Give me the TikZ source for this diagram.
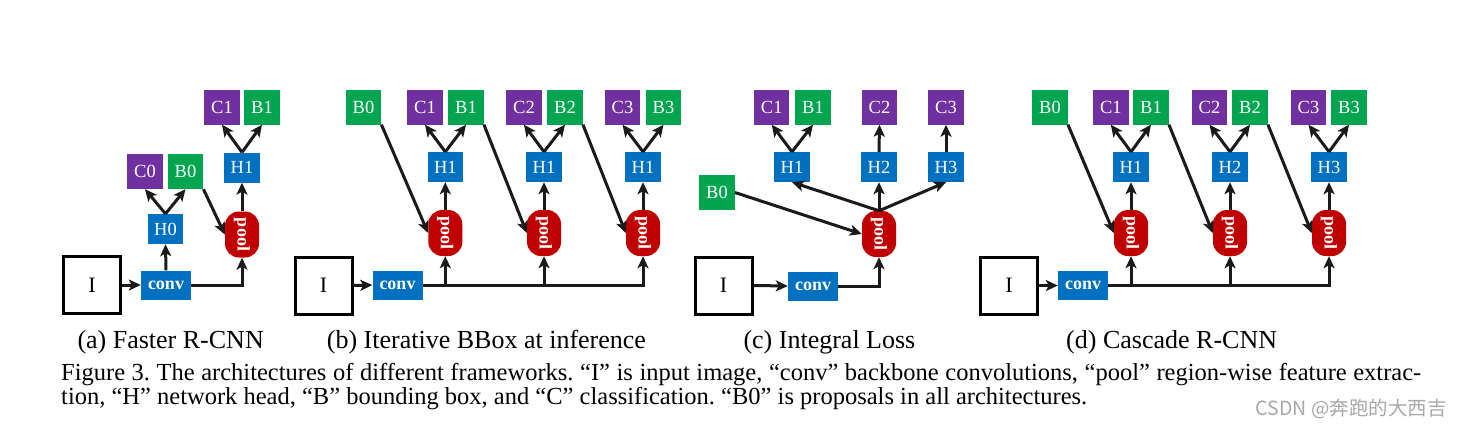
\documentclass[tikz,border=0pt]{standalone}
\usepackage{fontspec}
\setmainfont{Liberation Serif}
\newfontfamily\cjkfont{Noto Sans CJK SC}
\usetikzlibrary{arrows.meta}
\definecolor{cpurple}{HTML}{7030A0}
\definecolor{bgreen}{HTML}{00A550}
\definecolor{hblue}{HTML}{0070C0}
\definecolor{pred}{HTML}{C00000}
\definecolor{arrowc}{HTML}{1A1A1A}
\definecolor{wmgray}{HTML}{A8A8A8}
\frenchspacing
\begin{document}
\begin{tikzpicture}[x=1pt,y=-1pt,
  boxlbl/.style={inner sep=0pt, text=white, font=\fontsize{18.5}{18.5}\selectfont},
  cnode/.style={boxlbl, fill=cpurple, minimum width=35.5pt, minimum height=35pt},
  bnode/.style={boxlbl, fill=bgreen, minimum width=35.5pt, minimum height=35pt},
  hnode/.style={boxlbl, fill=hblue, minimum width=35.5pt, minimum height=30pt},
  convnode/.style={boxlbl, fill=hblue, minimum width=50pt, minimum height=29pt, font=\fontsize{18}{18}\selectfont\bfseries},
  poolnode/.style={boxlbl, fill=pred, minimum width=34pt, minimum height=46pt, rounded corners=14pt, font=\fontsize{18}{18}\selectfont\bfseries},
  inode/.style={draw=black, line width=3pt, minimum width=57pt, minimum height=57pt, inner sep=0pt, font=\fontsize{22}{22}\selectfont},
  arr/.style={draw=arrowc, line width=3pt, -{Stealth[length=12pt,width=11pt,inset=3pt]}},
  sublbl/.style={anchor=base west, inner sep=0pt, font=\fontsize{26}{26}\selectfont},
  capline/.style={anchor=base west, inner sep=0pt, font=\fontsize{24.5}{24.5}\selectfont},
  wmark/.style={anchor=base east, inner sep=0pt, text=wmgray, font=\cjkfont\fontsize{19.5}{19.5}\selectfont}
]
\useasboundingbox[fill=white] (0,0) rectangle (1461,426);

% ---------- (a) Faster R-CNN ----------
\node[inode] (Ia) at (92,285) {I};
\node[convnode] (conva) at (166,285) {conv};
\node[hnode] (H0a) at (165.5,229) {H0};
\node[cnode] (C0a) at (145,171.5) {C0};
\node[bnode] (B0a) at (185.5,171.5) {B0};
\node[poolnode] (poola) at (242,234.5) {\rotatebox{-90}{pool}};
\node[hnode] (H1a) at (242,167.5) {H1};
\node[cnode] (C1a) at (222,107) {C1};
\node[bnode] (B1a) at (262,107) {B1};
\draw[arr] (Ia.east) -- (conva.west);
\draw[arr] (conva.north) -- (H0a.south);
\draw[arr] (H0a.north) -- (C0a.south);
\draw[arr] (H0a.north) -- (B0a.south);
\draw[arr] (conva.east) -| (poola.south);
\draw[arr] (B0a.south east) -- (poola.west);
\draw[arr] (poola.north) -- (H1a.south);
\draw[arr] (H1a.north) -- (C1a.south);
\draw[arr] (H1a.north) -- (B1a.south);

% ---------- (b) Iterative BBox ----------
\node[inode] (Ib) at (323.5,285.5) {I};
\node[convnode] (convb) at (397.5,285) {conv};
\node[bnode] (B0b) at (363.5,107) {B0};
\node[poolnode] (poolb1) at (445.3,233) {\rotatebox{-90}{pool}};
\node[poolnode] (poolb2) at (544,233) {\rotatebox{-90}{pool}};
\node[poolnode] (poolb3) at (643,233) {\rotatebox{-90}{pool}};
\node[hnode] (Hb1) at (445.3,167) {H1};
\node[hnode] (Hb2) at (544,167) {H1};
\node[hnode] (Hb3) at (643,167) {H1};
\node[cnode] (Cb1) at (425,107) {C1};
\node[bnode] (Bb1) at (466,107) {B1};
\node[cnode] (Cb2) at (524,107) {C2};
\node[bnode] (Bb2) at (565,107) {B2};
\node[cnode] (Cb3) at (622.5,107) {C3};
\node[bnode] (Bb3) at (663.5,107) {B3};
\draw[arr] (Ib.east) -- (convb.west);
\draw[arr] (convb.east) -| (poolb3.south);
\draw[arr] (poolb1.south |- convb.east) -- (poolb1.south);
\draw[arr] (poolb2.south |- convb.east) -- (poolb2.south);
\draw[arr] (B0b.south east) -- (poolb1.west);
\draw[arr] (Bb1.south east) -- (poolb2.west);
\draw[arr] (Bb2.south east) -- (poolb3.west);
\draw[arr] (poolb1.north) -- (Hb1.south);
\draw[arr] (poolb2.north) -- (Hb2.south);
\draw[arr] (poolb3.north) -- (Hb3.south);
\draw[arr] (Hb1.north) -- (Cb1.south);
\draw[arr] (Hb1.north) -- (Bb1.south);
\draw[arr] (Hb2.north) -- (Cb2.south);
\draw[arr] (Hb2.north) -- (Bb2.south);
\draw[arr] (Hb3.north) -- (Cb3.south);
\draw[arr] (Hb3.north) -- (Bb3.south);

% ---------- (c) Integral Loss ----------
\node[inode] (Ic) at (723.5,285.5) {I};
\node[convnode] (convc) at (813,286) {conv};
\node[poolnode] (poolc) at (879,234) {\rotatebox{-90}{pool}};
\node[bnode] (B0c) at (717,192.5) {B0};
\node[hnode] (Hc1) at (792,167) {H1};
\node[hnode] (Hc2) at (879,167) {H2};
\node[hnode] (Hc3) at (946,167) {H3};
\node[cnode] (Cc1) at (771.7,107) {C1};
\node[bnode] (Bc1) at (813,107) {B1};
\node[cnode] (Cc2) at (879.5,107) {C2};
\node[cnode] (Cc3) at (946,107) {C3};
\draw[arr] (Ic.east) -- (convc.west);
\draw[arr] (convc.east) -| (poolc.south);
\draw[arr] (B0c.east) -- (poolc.west);
\draw[arr] (poolc.north) -- (Hc1.south);
\draw[arr] (poolc.north) -- (Hc2.south);
\draw[arr] (poolc.north) -- (Hc3.south);
\draw[arr] (Hc1.north) -- (Cc1.south);
\draw[arr] (Hc1.north) -- (Bc1.south);
\draw[arr] (Hc2.north) -- (Cc2.south);
\draw[arr] (Hc3.north) -- (Cc3.south);

% ---------- (d) Cascade R-CNN ----------
\node[inode] (Id) at (1009,285.5) {I};
\node[convnode] (convd) at (1083,285.5) {conv};
\node[bnode] (B0d) at (1050,107) {B0};
\node[poolnode] (poold1) at (1131,233) {\rotatebox{-90}{pool}};
\node[poolnode] (poold2) at (1230,233) {\rotatebox{-90}{pool}};
\node[poolnode] (poold3) at (1329,233) {\rotatebox{-90}{pool}};
\node[hnode] (Hd1) at (1131,167) {H1};
\node[hnode] (Hd2) at (1230,167) {H2};
\node[hnode] (Hd3) at (1329,167) {H3};
\node[cnode] (Cd1) at (1110.8,107) {C1};
\node[bnode] (Bd1) at (1151,107) {B1};
\node[cnode] (Cd2) at (1209.5,107) {C2};
\node[bnode] (Bd2) at (1250,107) {B2};
\node[cnode] (Cd3) at (1308.5,107) {C3};
\node[bnode] (Bd3) at (1349,107) {B3};
\draw[arr] (Id.east) -- (convd.west);
\draw[arr] (convd.east) -| (poold3.south);
\draw[arr] (poold1.south |- convd.east) -- (poold1.south);
\draw[arr] (poold2.south |- convd.east) -- (poold2.south);
\draw[arr] (B0d.south east) -- (poold1.west);
\draw[arr] (Bd1.south east) -- (poold2.west);
\draw[arr] (Bd2.south east) -- (poold3.west);
\draw[arr] (poold1.north) -- (Hd1.south);
\draw[arr] (poold2.north) -- (Hd2.south);
\draw[arr] (poold3.north) -- (Hd3.south);
\draw[arr] (Hd1.north) -- (Cd1.south);
\draw[arr] (Hd1.north) -- (Bd1.south);
\draw[arr] (Hd2.north) -- (Cd2.south);
\draw[arr] (Hd2.north) -- (Bd2.south);
\draw[arr] (Hd3.north) -- (Cd3.south);
\draw[arr] (Hd3.north) -- (Bd3.south);

% ---------- captions ----------
\node[sublbl] (suba) at (77.3,348.3) {(a) Faster R-CNN};
\node[sublbl] (subb) at (326.7,348.3) {(b) Iterative BBox at inference};
\node[sublbl] (subc) at (743.3,348.3) {(c) Integral Loss};
\node[sublbl] (subd) at (1066,348.3) {(d) Cascade R-CNN};
\node[capline] (cap1) at (61,380) {\makebox[1360pt][s]{Figure 3. The architectures of different frameworks. “I” is input image, “conv” backbone convolutions, “pool” region-wise feature extrac-}};
\node[capline] (cap2) at (61,404.5) {tion, “H” network head, “B” bounding box, and “C” classification. “B0” is proposals in all architectures.};
\node[wmark] (wm) at (1447,415) {CSDN @奔跑的大西吉};
\end{tikzpicture}
\end{document}
